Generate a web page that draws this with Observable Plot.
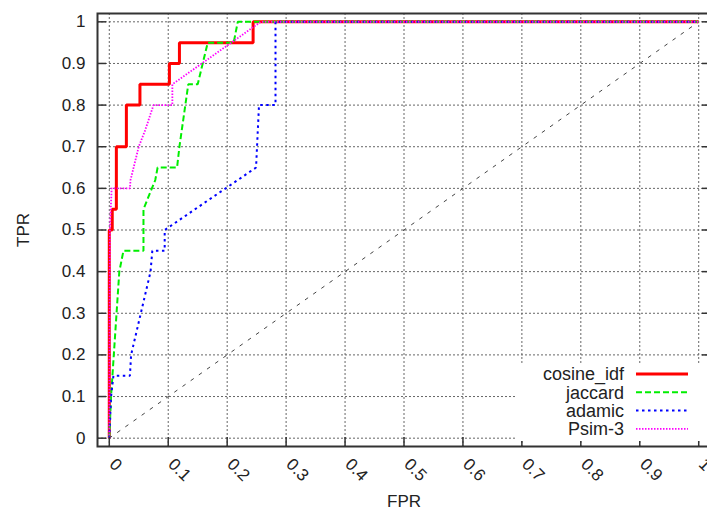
<!DOCTYPE html>
<html>
<head>
<meta charset="utf-8">
<script src="https://cdn.jsdelivr.net/npm/d3@7"></script>
<script src="https://cdn.jsdelivr.net/npm/@observablehq/plot@0.6"></script>
<style>
  html, body { margin: 0; padding: 0; background: #fff; overflow: hidden; }
  #wrap { position: relative; width: 707px; height: 511px; }
  #legend { position: absolute; left: 0; top: 0; }
</style>
</head>
<body>
<div id="wrap"></div>
<script>
// Tick values
const fprTicks = [0, 0.1, 0.2, 0.3, 0.4, 0.5, 0.6, 0.7, 0.8, 0.9, 1];
const tprTicks = [0, 0.1, 0.2, 0.3, 0.4, 0.5, 0.6, 0.7, 0.8, 0.9, 1];

// Series names
const seriesNames = ["cosine_idf", "jaccard", "adamic", "Psim-3"];

// cosine_idf
const cosineFPR = [0, 0, 0.005, 0.005, 0.012, 0.012, 0.029, 0.029, 0.052, 0.052, 0.102, 0.102, 0.119, 0.119, 0.244, 0.244, 1];
const cosineTPR = [0, 0.5, 0.5, 0.55, 0.55, 0.7, 0.7, 0.8, 0.8, 0.85, 0.85, 0.9, 0.9, 0.95, 0.95, 1, 1];

// jaccard
const jaccardFPR = [0, 0.003, 0.017, 0.024, 0.058, 0.058, 0.078, 0.082, 0.115, 0.119, 0.129, 0.134, 0.15, 0.167, 0.211, 0.218, 1];
const jaccardTPR = [0, 0.1, 0.4, 0.45, 0.45, 0.55, 0.62, 0.65, 0.65, 0.7, 0.8, 0.85, 0.85, 0.95, 0.95, 1, 1];

// adamic
const adamicFPR = [0, 0.003, 0.007, 0.035, 0.037, 0.07, 0.073, 0.094, 0.094, 0.249, 0.254, 0.282, 0.282, 1];
const adamicTPR = [0, 0.1, 0.15, 0.15, 0.2, 0.4, 0.45, 0.45, 0.5, 0.65, 0.8, 0.8, 1, 1];

// Psim-3
const psimFPR = [0, 0.001, 0.004, 0.035, 0.036, 0.05, 0.061, 0.075, 0.107, 0.107, 0.257, 1];
const psimTPR = [0, 0.5, 0.6, 0.6, 0.62, 0.7, 0.74, 0.8, 0.8, 0.85, 1, 1];

// diagonal reference
const diagFPR = [0, 1];
const diagTPR = [0, 1];

const colors = ["#ff0000", "#00ee00", "#0000ff", "#ff00ff"];
const widths = [3, 2, 2, 1.8];
const dashes = [null, "6,3", "2.5,3.5", "1.5,1.5"];

const toRows = (xs, ys) => xs.map((x, i) => ({x, y: ys[i]}));
const seriesData = [
  toRows(cosineFPR, cosineTPR),
  toRows(jaccardFPR, jaccardTPR),
  toRows(adamicFPR, adamicTPR),
  toRows(psimFPR, psimTPR)
];

const axisColor = "#333";
const fontFam = "'Liberation Sans', Arial, Helvetica, sans-serif";

const plot = Plot.plot({
  width: 707,
  height: 511,
  marginLeft: 97,
  marginRight: -3,
  marginTop: 13,
  marginBottom: 65,
  x: {domain: [-0.02, 1.02]},
  y: {domain: [-0.02, 1.02]},
  style: {fontFamily: fontFam, fontSize: "17px", color: "#222", background: "white"},
  marks: [
    Plot.gridX(fprTicks, {stroke: "#666", strokeOpacity: 1, strokeWidth: 1, strokeDasharray: "2,2"}),
    Plot.gridY(tprTicks, {stroke: "#666", strokeOpacity: 1, strokeWidth: 1, strokeDasharray: "2,2"}),
    Plot.line(toRows(diagFPR, diagTPR), {x: "x", y: "y", stroke: "#444", strokeWidth: 1, strokeDasharray: "3,7"}),
    ...seriesData.map((d, i) => Plot.line(d, {
      x: "x", y: "y", stroke: colors[i], strokeWidth: widths[i],
      strokeDasharray: dashes[i], strokeLinejoin: "miter", strokeLinecap: "butt"
    })),
    Plot.frame({stroke: axisColor, strokeWidth: 2}),
    Plot.axisY(tprTicks, {anchor: "left", tickSize: -9, stroke: axisColor, strokeWidth: 1.5, text: null, label: null}),
    Plot.axisY(tprTicks, {anchor: "right", tickSize: -9, stroke: axisColor, strokeWidth: 1.5, text: null, label: null}),
    Plot.axisX(fprTicks, {anchor: "bottom", tickSize: -9, stroke: axisColor, strokeWidth: 1.5, text: null, label: null}),
    Plot.axisY(tprTicks, {anchor: "left", tickSize: 0, tickPadding: 12, tickFormat: d => String(d),
      label: "TPR", labelAnchor: "center", labelOffset: 81, labelArrow: "none", fill: "#222", fontSize: 17}),
    Plot.text(fprTicks, {x: d => d, frameAnchor: "bottom", text: d => String(d), rotate: 45,
      textAnchor: "start", lineAnchor: "middle", dx: 3, dy: 15, fill: "#222", fontSize: 17}),
    Plot.axisX(fprTicks, {anchor: "bottom", tickSize: 0, text: null, label: "FPR",
      labelAnchor: "center", labelOffset: 60, labelArrow: "none", fontSize: 17})
  ]
});

const wrap = document.getElementById("wrap");
wrap.appendChild(plot);

// Legend (inside plot area, bottom right, white box)
const leg = d3.select(wrap).append("svg")
  .attr("id", "legend")
  .attr("width", 707).attr("height", 511)
  .style("pointer-events", "none");
leg.append("rect").attr("x", 515).attr("y", 363).attr("width", 195).attr("height", 78).attr("fill", "white");
seriesNames.forEach((name, i) => {
  const cy = 374 + i * 18.3;
  leg.append("text").attr("x", 624).attr("y", cy).attr("dy", "0.35em")
    .attr("text-anchor", "end").attr("font-family", fontFam).attr("font-size", 18)
    .attr("fill", "#222").text(name);
  leg.append("line").attr("x1", 636).attr("x2", 688).attr("y1", cy).attr("y2", cy)
    .attr("stroke", colors[i]).attr("stroke-width", widths[i])
    .attr("stroke-dasharray", dashes[i]);
});
</script>
</body>
</html>
